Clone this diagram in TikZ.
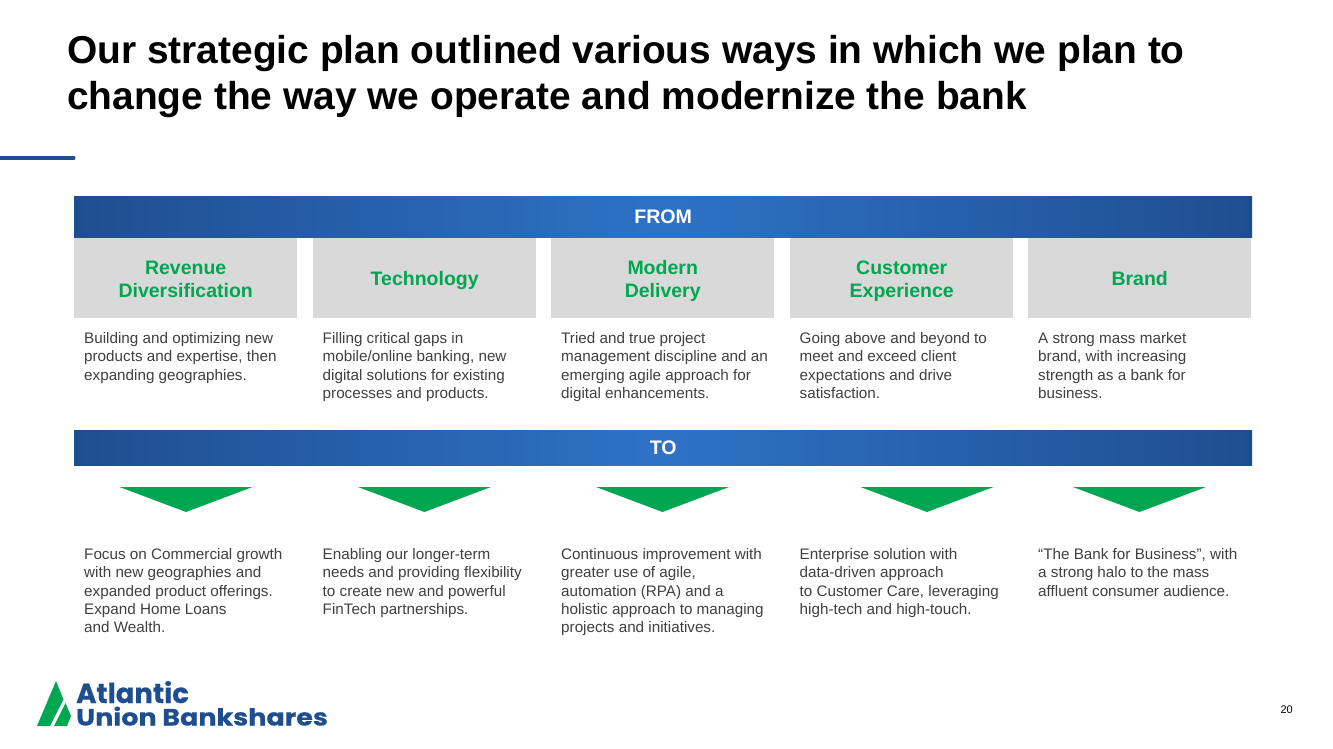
\documentclass[tikz,border=0pt]{standalone}
\usepackage{fontspec}
\setmainfont{Liberation Sans}
\newfontfamily\logofont[FakeBold=0.5]{Poppins}
\newfontfamily\logowide[FakeBold=0.5,FakeStretch=1.147]{Poppins}
\newcommand{\hdtop}{\rule{0pt}{22.1pt}}
\definecolor{aublue}{HTML}{1F4E8F}
\definecolor{aumid}{HTML}{2E72C6}
\definecolor{augreen}{HTML}{00A651}
\definecolor{auhead}{HTML}{D9D9D9}
\definecolor{autext}{HTML}{404040}
\tikzset{
  titletext/.style={anchor=base west,inner sep=0pt,font=\fontsize{38.9}{46}\selectfont\bfseries,text=black},
  band/.style={anchor=north west,inner sep=0pt,minimum width=1178pt,left color=aublue,right color=aublue,middle color=aumid,text=white,font=\fontsize{19.6}{22}\selectfont\bfseries},
  headbox/.style={anchor=north west,inner sep=0pt,minimum width=223pt,minimum height=80pt,fill=auhead,text=augreen,align=center,font=\fontsize{19.5}{23}\selectfont\bfseries},
  bodytext/.style={anchor=north west,inner sep=0pt,align=left,text=autext,font=\fontsize{15.24}{18.3}\selectfont},
  tri/.style={fill=augreen},
  logotext/.style={anchor=base west,inner sep=0pt,text=aublue}
}
\begin{document}
\begin{tikzpicture}[x=1pt,y=-1pt]
\useasboundingbox (0,0) rectangle (1333,749);
\fill[white] (0,0) rectangle (1333,749);
\node[titletext] (t1) at (67,64) {Our strategic plan outlined various ways in which we plan to};
\node[titletext] (t2) at (67,110) {change the way we operate and modernize the bank};
\draw[aublue,line width=3pt,line cap=round] (-3,158) -- (74,158);
\node[band,minimum height=41pt] (from) at (74,196) {FROM};
\node[band,minimum height=35.5pt] (to) at (74,430) {TO};
\node[headbox] (h1) at (74,238) {\hdtop Revenue\\\strut Diversification};
\node[headbox] (h2) at (313,238) {\hdtop\strut Technology};
\node[headbox] (h3) at (551,238) {\hdtop Modern\\\strut Delivery};
\node[headbox] (h4) at (790,238) {\hdtop Customer\\\strut Experience};
\node[headbox] (h5) at (1028,238) {\hdtop\strut Brand};
\node[bodytext] (a1) at (84,332.2) {Building and optimizing new\\products and expertise, then\\expanding geographies.};
\node[bodytext] (a2) at (322.5,332.2) {Filling critical gaps in\\mobile/online banking, new\\digital solutions for existing\\processes and products.};
\node[bodytext] (a3) at (561,332.2) {Tried and true project\\management discipline and an\\emerging agile approach for\\digital enhancements.};
\node[bodytext] (a4) at (799.5,332.2) {Going above and beyond to\\meet and exceed client\\expectations and drive\\satisfaction.};
\node[bodytext] (a5) at (1038,332.2) {A strong mass market\\brand, with increasing\\strength as a bank for\\business.};
\fill[tri] (119.5,487) -- (252.5,487) -- (186,512) -- cycle;
\fill[tri] (358,487) -- (491,487) -- (424.5,512) -- cycle;
\fill[tri] (596,487) -- (729,487) -- (662.5,512) -- cycle;
\fill[tri] (860.5,487) -- (993.5,487) -- (927,512) -- cycle;
\fill[tri] (1073,487) -- (1206,487) -- (1139.5,512) -- cycle;
\node[bodytext] (b1) at (84,548.2) {Focus on Commercial growth\\with new geographies and\\expanded product offerings.\\Expand Home Loans\\and Wealth.};
\node[bodytext] (b2) at (322.5,548.2) {Enabling our longer-term\\needs and providing flexibility\\to create new and powerful\\FinTech partnerships.};
\node[bodytext] (b3) at (561,548.2) {Continuous improvement with\\greater use of agile,\\automation (RPA) and a\\holistic approach to managing\\projects and initiatives.};
\node[bodytext] (b4) at (799.5,548.2) {Enterprise solution with\\data-driven approach\\to Customer Care, leveraging\\high-tech and high-touch.};
\node[bodytext] (b5) at (1038,548.2) {“The Bank for Business”, with\\a strong halo to the mass\\affluent consumer audience.};
% logo
\fill[augreen] (37,726) -- (56,681) -- (63.5,699.5) -- (50,726) -- cycle;
\fill[augreen] (54,726) -- (65.5,703) -- (71,716) -- (67,726) -- cycle;
\node[logotext,font=\logofont\bfseries\fontsize{27.5}{28}\selectfont] (l1) at (76,703) {Atlantic};
\node[logotext,font=\logowide\bfseries\fontsize{23.5}{24}\selectfont] (l2) at (76,725.5) {Union Bankshares};
\node[anchor=base east,inner sep=0pt,font=\fontsize{11}{12}\selectfont] (pg) at (1293,713) {20};
\end{tikzpicture}
\end{document}
